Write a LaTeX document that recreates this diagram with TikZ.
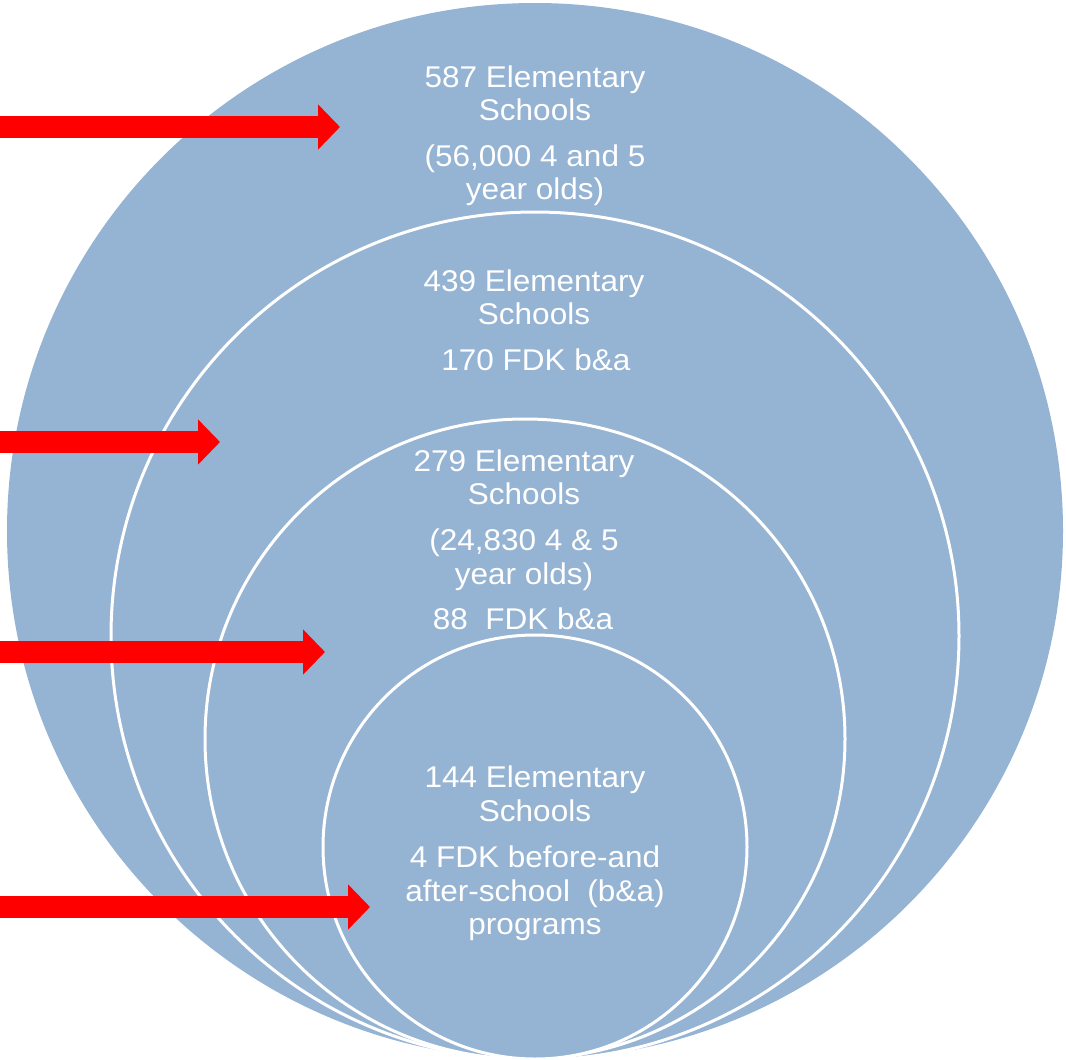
\documentclass[tikz,border=0pt]{standalone}
\usepackage{fontspec}
\newfontfamily\lbl[FakeStretch=1.05]{Liberation Sans}
\usetikzlibrary{arrows.meta}
\definecolor{circblue}{RGB}{149,179,211}
\definecolor{arrred}{RGB}{255,0,0}
\tikzset{
  ring/.style={fill=circblue, draw=white, line width=3pt},
  outerring/.style={fill=circblue, draw=none},
  redarrow/.style={draw=arrred, line width=22pt,
    -{Triangle[width=44pt,length=22pt,fill=arrred]}},
  lab/.style={text=white, inner sep=0pt, anchor=base,
    font=\lbl\fontsize{30}{33}\selectfont},
}
\begin{document}
\begin{tikzpicture}[x=1pt,y=-1pt]
\useasboundingbox (0,0) rectangle (1066,1060);
% circles
\path[outerring] (535,531) circle[radius=528];
\path[ring] (535,636) circle[radius=424];
\path[ring] (525,739) circle[radius=320];
\path[ring] (535,847) circle[radius=212];
% arrows
\coordinate (a1s) at (0,127);   \coordinate (a1e) at (340,127);
\coordinate (a2s) at (0,442);   \coordinate (a2e) at (220,442);
\coordinate (a3s) at (0,652);   \coordinate (a3e) at (325,652);
\coordinate (a4s) at (0,907);   \coordinate (a4e) at (370,907);
\draw[redarrow] (a1s) -- (a1e);
\draw[redarrow] (a2s) -- (a2e);
\draw[redarrow] (a3s) -- (a3e);
\draw[redarrow] (a4s) -- (a4e);
% block 1
\node[lab] (t1a) at (535,87) {587 Elementary};
\node[lab] (t1b) at (535,120) {Schools};
\node[lab] (t1c) at (535,166) {(56,000 4 and 5};
\node[lab] (t1d) at (535,199) {year olds)};
% block 2
\node[lab] (t2a) at (534,291) {439 Elementary};
\node[lab] (t2b) at (534,324) {Schools};
\node[lab] (t2c) at (536,370) {170 FDK b\&a};
% block 3
\node[lab] (t3a) at (524,471) {279 Elementary};
\node[lab] (t3b) at (524,504) {Schools};
\node[lab] (t3c) at (524,550) {(24,830 4 \& 5};
\node[lab] (t3d) at (524,584) {year olds)};
\node[lab] (t3e) at (523,629) {88\ \ FDK b\&a};
% block 4
\node[lab] (t4a) at (535,787) {144 Elementary};
\node[lab] (t4b) at (535,821) {Schools};
\node[lab] (t4c) at (535,867) {4 FDK before-and};
\node[lab] (t4d) at (535,901) {after-school\ \ (b\&a)};
\node[lab] (t4e) at (535,934) {programs};
\end{tikzpicture}
\end{document}
